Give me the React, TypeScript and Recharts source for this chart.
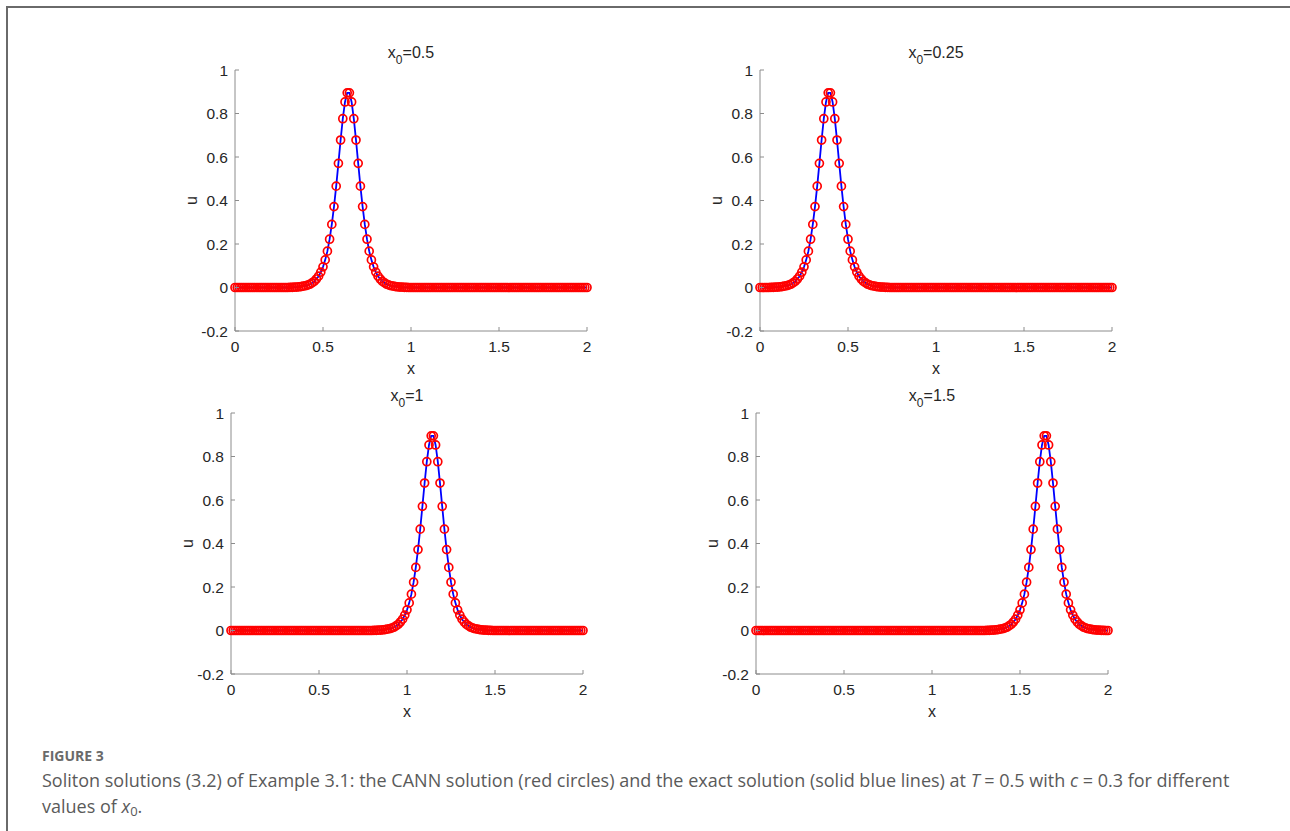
import React from 'react';
import { ComposedChart, Line, XAxis, YAxis } from 'recharts';

// ---------- data ----------
const xGrid = [
  0, 0.0125, 0.025, 0.0375, 0.05, 0.0625, 0.075, 0.0875,
  0.1, 0.1125, 0.125, 0.1375, 0.15, 0.1625, 0.175, 0.1875,
  0.2, 0.2125, 0.225, 0.2375, 0.25, 0.2625, 0.275, 0.2875,
  0.3, 0.3125, 0.325, 0.3375, 0.35, 0.3625, 0.375, 0.3875,
  0.4, 0.4125, 0.425, 0.4375, 0.45, 0.4625, 0.475, 0.4875,
  0.5, 0.5125, 0.525, 0.5375, 0.55, 0.5625, 0.575, 0.5875,
  0.6, 0.6125, 0.625, 0.6375, 0.65, 0.6625, 0.675, 0.6875,
  0.7, 0.7125, 0.725, 0.7375, 0.75, 0.7625, 0.775, 0.7875,
  0.8, 0.8125, 0.825, 0.8375, 0.85, 0.8625, 0.875, 0.8875,
  0.9, 0.9125, 0.925, 0.9375, 0.95, 0.9625, 0.975, 0.9875,
  1.0, 1.0125, 1.025, 1.0375, 1.05, 1.0625, 1.075, 1.0875,
  1.1, 1.1125, 1.125, 1.1375, 1.15, 1.1625, 1.175, 1.1875,
  1.2, 1.2125, 1.225, 1.2375, 1.25, 1.2625, 1.275, 1.2875,
  1.3, 1.3125, 1.325, 1.3375, 1.35, 1.3625, 1.375, 1.3875,
  1.4, 1.4125, 1.425, 1.4375, 1.45, 1.4625, 1.475, 1.4875,
  1.5, 1.5125, 1.525, 1.5375, 1.55, 1.5625, 1.575, 1.5875,
  1.6, 1.6125, 1.625, 1.6375, 1.65, 1.6625, 1.675, 1.6875,
  1.7, 1.7125, 1.725, 1.7375, 1.75, 1.7625, 1.775, 1.7875,
  1.8, 1.8125, 1.825, 1.8375, 1.85, 1.8625, 1.875, 1.8875,
  1.9, 1.9125, 1.925, 1.9375, 1.95, 1.9625, 1.975, 1.9875,
  2.0,
];

// x0 = 0.5 (peak near x = 0.65)
const uX0_05 = [
  0, 0, 0, 0, 0, 0, 0, 0, 0, 0,
  0, 0, 0, 0, 0, 0, 0, 0, 0, 0,
  0, 0, 0, 0, 0,
  0.001, 0.001, 0.002, 0.002, 0.003, 0.004, 0.006, 0.008, 0.011, 0.015, 0.021, 0.028, 0.039, 0.052,
  0.071, 0.095, 0.127, 0.167, 0.222, 0.290, 0.372, 0.466, 0.571, 0.678, 0.776, 0.853, 0.895,
  0.895, 0.853, 0.776, 0.678, 0.571, 0.466, 0.372, 0.290, 0.222, 0.167, 0.127, 0.095, 0.071,
  0.052, 0.039, 0.028, 0.021, 0.015, 0.011, 0.008, 0.006, 0.004, 0.003, 0.002, 0.002, 0.001, 0.001,
  0, 0, 0, 0, 0, 0, 0, 0, 0, 0,
  0, 0, 0, 0, 0, 0, 0, 0, 0, 0,
  0, 0, 0, 0, 0, 0, 0, 0, 0, 0,
  0, 0, 0, 0, 0, 0, 0, 0, 0, 0,
  0, 0, 0, 0, 0, 0, 0, 0, 0, 0,
  0, 0, 0, 0, 0, 0, 0, 0, 0, 0,
  0, 0, 0, 0, 0, 0, 0, 0, 0, 0,
  0, 0, 0, 0, 0, 0, 0, 0, 0, 0,
  0, 0,
];

// x0 = 0.25 (peak near x = 0.40)
const uX0_025 = [
  0, 0, 0, 0, 0,
  0.001, 0.001, 0.002, 0.002, 0.003, 0.004, 0.006, 0.008, 0.011, 0.015, 0.021, 0.028, 0.039, 0.052,
  0.071, 0.095, 0.127, 0.167, 0.222, 0.290, 0.372, 0.466, 0.571, 0.678, 0.776, 0.853, 0.895,
  0.895, 0.853, 0.776, 0.678, 0.571, 0.466, 0.372, 0.290, 0.222, 0.167, 0.127, 0.095, 0.071,
  0.052, 0.039, 0.028, 0.021, 0.015, 0.011, 0.008, 0.006, 0.004, 0.003, 0.002, 0.002, 0.001, 0.001,
  0, 0, 0, 0, 0, 0, 0, 0, 0, 0,
  0, 0, 0, 0, 0, 0, 0, 0, 0, 0,
  0, 0, 0, 0, 0, 0, 0, 0, 0, 0,
  0, 0, 0, 0, 0, 0, 0, 0, 0, 0,
  0, 0, 0, 0, 0, 0, 0, 0, 0, 0,
  0, 0, 0, 0, 0, 0, 0, 0, 0, 0,
  0, 0, 0, 0, 0, 0, 0, 0, 0, 0,
  0, 0, 0, 0, 0, 0, 0, 0, 0, 0,
  0, 0, 0, 0, 0, 0, 0, 0, 0, 0,
  0, 0, 0, 0, 0, 0, 0, 0, 0, 0,
  0, 0,
];

// x0 = 1 (peak near x = 1.15)
const uX0_1 = [
  0, 0, 0, 0, 0, 0, 0, 0, 0, 0,
  0, 0, 0, 0, 0, 0, 0, 0, 0, 0,
  0, 0, 0, 0, 0, 0, 0, 0, 0, 0,
  0, 0, 0, 0, 0, 0, 0, 0, 0, 0,
  0, 0, 0, 0, 0, 0, 0, 0, 0, 0,
  0, 0, 0, 0, 0, 0, 0, 0, 0, 0,
  0, 0, 0, 0, 0,
  0.001, 0.001, 0.002, 0.002, 0.003, 0.004, 0.006, 0.008, 0.011, 0.015, 0.021, 0.028, 0.039, 0.052,
  0.071, 0.095, 0.127, 0.167, 0.222, 0.290, 0.372, 0.466, 0.571, 0.678, 0.776, 0.853, 0.895,
  0.895, 0.853, 0.776, 0.678, 0.571, 0.466, 0.372, 0.290, 0.222, 0.167, 0.127, 0.095, 0.071,
  0.052, 0.039, 0.028, 0.021, 0.015, 0.011, 0.008, 0.006, 0.004, 0.003, 0.002, 0.002, 0.001, 0.001,
  0, 0, 0, 0, 0, 0, 0, 0, 0, 0,
  0, 0, 0, 0, 0, 0, 0, 0, 0, 0,
  0, 0, 0, 0, 0, 0, 0, 0, 0, 0,
  0, 0, 0, 0, 0, 0, 0, 0, 0, 0,
  0, 0,
];

// x0 = 1.5 (peak near x = 1.65)
const uX0_15 = [
  0, 0, 0, 0, 0, 0, 0, 0, 0, 0,
  0, 0, 0, 0, 0, 0, 0, 0, 0, 0,
  0, 0, 0, 0, 0, 0, 0, 0, 0, 0,
  0, 0, 0, 0, 0, 0, 0, 0, 0, 0,
  0, 0, 0, 0, 0, 0, 0, 0, 0, 0,
  0, 0, 0, 0, 0, 0, 0, 0, 0, 0,
  0, 0, 0, 0, 0, 0, 0, 0, 0, 0,
  0, 0, 0, 0, 0, 0, 0, 0, 0, 0,
  0, 0, 0, 0, 0, 0, 0, 0, 0, 0,
  0, 0, 0, 0, 0, 0, 0, 0, 0, 0,
  0, 0, 0, 0, 0,
  0.001, 0.001, 0.002, 0.002, 0.003, 0.004, 0.006, 0.008, 0.011, 0.015, 0.021, 0.028, 0.039, 0.052,
  0.071, 0.095, 0.127, 0.167, 0.222, 0.290, 0.372, 0.466, 0.571, 0.678, 0.776, 0.853, 0.895,
  0.895, 0.853, 0.776, 0.678, 0.571, 0.466, 0.372, 0.290, 0.222, 0.167, 0.127, 0.095, 0.071,
  0.052, 0.039, 0.028, 0.021, 0.015, 0.011, 0.008, 0.006, 0.004, 0.003, 0.002, 0.002, 0.001, 0.001,
  0, 0,
];

const xTicks = [0, 0.5, 1, 1.5, 2];
const yTicks = [-0.2, 0, 0.2, 0.4, 0.6, 0.8, 1];
const panelTitles = ['0.5', '0.25', '1', '1.5'];

// ---------- styles ----------
const AXIS_COLOR = '#8c8c8c';
const TEXT_COLOR = '#262626';
const TICK_LEN = 4;
const FONT = '"Liberation Sans", Arial, Helvetica, sans-serif';
const PLOT_H = 261;
const M_TOP = 10;
const M_RIGHT = 10;
const Y_W = 60;
const X_H = 50;

const fmt = (v: number) => String(Math.round(v * 100) / 100);

function BottomTick(props: any) {
  const { x, y, payload } = props;
  return (
    <g>
      <line x1={x} y1={y} x2={x} y2={y - TICK_LEN} stroke={AXIS_COLOR} strokeWidth={1} />
      <text x={x} y={y + 21} textAnchor="middle" fontSize={15.5} fill={TEXT_COLOR} fontFamily={FONT}>
        {fmt(payload.value)}
      </text>
    </g>
  );
}

function LeftTick(props: any) {
  const { x, y, payload } = props;
  return (
    <g>
      <line x1={x} y1={y} x2={x + TICK_LEN} y2={y} stroke={AXIS_COLOR} strokeWidth={1} />
      <text x={x - 7} y={y + 5.5} textAnchor="end" fontSize={15.5} fill={TEXT_COLOR} fontFamily={FONT}>
        {fmt(payload.value)}
      </text>
    </g>
  );
}

function TopTick(props: any) {
  const { x, y } = props;
  return <line x1={x} y1={y} x2={x} y2={y + TICK_LEN} stroke={AXIS_COLOR} strokeWidth={1} />;
}

function RightTick(props: any) {
  const { x, y } = props;
  return <line x1={x} y1={y} x2={x - TICK_LEN} y2={y} stroke={AXIS_COLOR} strokeWidth={1} />;
}

type PanelProps = { plotLeft: number; plotTop: number; plotW: number; values: number[]; title: string };

function Panel({ plotLeft, plotTop, plotW, values, title }: PanelProps) {
  const width = Y_W + plotW + M_RIGHT;
  const height = M_TOP + PLOT_H + X_H;
  const data = xGrid.map((x, i) => ({ x, cann: values[i], exact: values[i] }));
  const cx = Y_W + plotW / 2;
  const axisLine = { stroke: AXIS_COLOR, strokeWidth: 1 };
  return (
    <div style={{ position: 'absolute', left: plotLeft - Y_W, top: plotTop - M_TOP, width, height }}>
      <ComposedChart
        width={width}
        height={height}
        data={data}
        margin={{ top: M_TOP, right: M_RIGHT, bottom: 0, left: 0 }}
      >
        <XAxis
          dataKey="x"
          type="number"
          domain={[0, 2]}
          ticks={xTicks}
          interval={0}
          height={X_H}
          tickSize={0}
          tickMargin={0}
          tickLine={false}
          axisLine={axisLine}
          tick={(p: any) => <BottomTick {...p} />}
        />
        <XAxis
          xAxisId="top"
          orientation="top"
          type="number"
          domain={[0, 2]}
          ticks={xTicks}
          interval={0}
          height={0}
          tickSize={0}
          tickMargin={0}
          tickLine={false}
          axisLine={axisLine}
          tick={(p: any) => <TopTick {...p} />}
        />
        <YAxis
          type="number"
          domain={[-0.2, 1]}
          ticks={yTicks}
          interval={0}
          width={Y_W}
          tickSize={0}
          tickMargin={0}
          tickLine={false}
          axisLine={axisLine}
          tick={(p: any) => <LeftTick {...p} />}
        />
        <YAxis
          yAxisId="right"
          orientation="right"
          type="number"
          domain={[-0.2, 1]}
          ticks={yTicks}
          interval={0}
          width={0}
          tickSize={0}
          tickMargin={0}
          tickLine={false}
          axisLine={axisLine}
          tick={(p: any) => <RightTick {...p} />}
        />
        <Line
          dataKey="cann"
          stroke="none"
          dot={{ r: 4, stroke: '#ff0000', strokeWidth: 1.7, fill: 'none' }}
          activeDot={false}
          isAnimationActive={false}
        />
        <Line
          dataKey="exact"
          stroke="#0000ff"
          strokeWidth={1.8}
          dot={false}
          activeDot={false}
          type="linear"
          isAnimationActive={false}
        />
      </ComposedChart>
      <svg
        width={width}
        height={height}
        style={{ position: 'absolute', left: 0, top: 0, pointerEvents: 'none', overflow: 'visible' }}
      >
        <text x={cx} y={M_TOP - 12} textAnchor="middle" fontSize={16} fill={TEXT_COLOR} fontFamily={FONT}>
          x<tspan dy={6} fontSize={12}>0</tspan>
          <tspan dy={-6}>={title}</tspan>
        </text>
        <text x={cx} y={M_TOP + PLOT_H + 43} textAnchor="middle" fontSize={16} fill={TEXT_COLOR} fontFamily={FONT}>
          x
        </text>
        <text
          transform={`translate(${Y_W - 38}, ${M_TOP + PLOT_H / 2}) rotate(-90)`}
          textAnchor="middle"
          fontSize={16}
          fill={TEXT_COLOR}
          fontFamily={FONT}
        >
          u
        </text>
      </svg>
    </div>
  );
}

export default function App() {
  const capFont = '"Open Sans", "Noto Sans", sans-serif';
  return (
    <div style={{ position: 'absolute', left: 0, top: 0, width: 1290, height: 831, background: '#fff', overflow: 'hidden' }}>
      <div
        style={{
          position: 'absolute',
          left: 6,
          top: 6,
          width: 1290,
          height: 831,
          borderTop: '2px solid #6a6a6a',
          borderLeft: '2px solid #6a6a6a',
        }}
      />
      <Panel plotLeft={235} plotTop={70} plotW={352} values={uX0_05} title={panelTitles[0]} />
      <Panel plotLeft={760} plotTop={70} plotW={352} values={uX0_025} title={panelTitles[1]} />
      <Panel plotLeft={231} plotTop={413} plotW={352} values={uX0_1} title={panelTitles[2]} />
      <Panel plotLeft={756} plotTop={413} plotW={352} values={uX0_15} title={panelTitles[3]} />
      <div
        style={{
          position: 'absolute',
          left: 42,
          top: 748,
          fontFamily: capFont,
          fontSize: 14,
          fontWeight: 700,
          lineHeight: '16px',
          color: '#6a6a6a',
          whiteSpace: 'nowrap',
        }}
      >
        FIGURE 3
      </div>
      <div
        style={{
          position: 'absolute',
          left: 42,
          top: 767,
          fontFamily: capFont,
          fontSize: 18,
          lineHeight: '26px',
          color: '#5a5a5a',
          whiteSpace: 'nowrap',
        }}
      >
        Soliton solutions (3.2) of Example 3.1: the CANN solution (red circles) and the exact solution (solid blue lines) at{' '}
        <i>T</i> = 0.5 with <i>c</i> = 0.3 for different
      </div>
      <div
        style={{
          position: 'absolute',
          left: 42,
          top: 793,
          fontFamily: capFont,
          fontSize: 18,
          lineHeight: '26px',
          color: '#5a5a5a',
          whiteSpace: 'nowrap',
        }}
      >
        values of <i>x</i>
        <sub style={{ fontSize: 13, verticalAlign: '-3px' }}>0</sub>.
      </div>
    </div>
  );
}
